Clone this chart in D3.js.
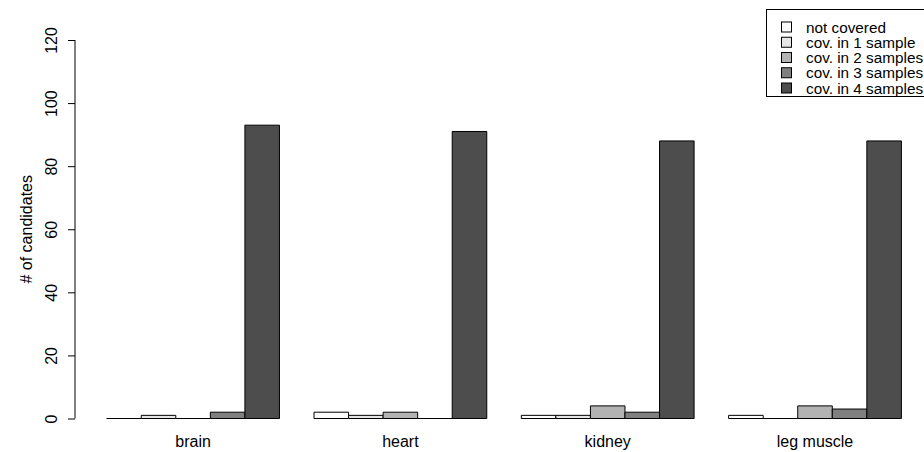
<!DOCTYPE html>
<html>
<head>
<meta charset="utf-8">
<script src="https://cdn.jsdelivr.net/npm/d3@7"></script>
<style>
  html, body { margin: 0; padding: 0; background: #fff; }
  svg { display: block; font-family: "Liberation Sans", Arial, Helvetica, sans-serif; }
</style>
</head>
<body>
<svg id="chart" width="924" height="452"></svg>
<script>
// Tissues along the x axis
const tissues = ["brain", "heart", "kidney", "leg muscle"];
// Coverage classes (one bar per class inside each tissue group)
const coverage = ["not covered", "cov. in 1 sample", "cov. in 2 samples", "cov. in 3 samples", "cov. in 4 samples"];
// Counts per tissue, in the order of the coverage classes
const brain = [0, 1, 0, 2, 93];
const heart = [2, 1, 2, 0, 91];
const kidney = [1, 1, 4, 2, 88];
const legMuscle = [1, 0, 4, 3, 88];
const yTicks = [0, 20, 40, 60, 80, 100, 120];
const fills = ["#ffffff", "#e6e6e6", "#b3b3b3", "#808080", "#4d4d4d"];

const counts = [brain, heart, kidney, legMuscle];
const svg = d3.select("#chart");

// Bars are laid out in bar-width units: each group has one empty unit before it
const nBars = coverage.length;
const groupSpan = nBars + 1;
const x = d3.scaleLinear().domain([1, tissues.length * groupSpan]).range([106.7, 901.4]);
const y = d3.scaleLinear().domain([0, 120]).range([418.5, 40]);
const axisX = 75;

const bars = [];
counts.forEach((vals, g) => {
  vals.forEach((v, j) => {
    bars.push({ g, j, v, left: g * groupSpan + 1 + j });
  });
});

svg.append("g")
  .selectAll("path")
  .data(bars)
  .join("path")
  .attr("d", d => {
    const x0 = x(d.left), x1 = x(d.left + 1);
    const y0 = y(0), y1 = y(d.v);
    return `M${x0},${y0}H${x1}V${y1}H${x0}Z`;
  })
  .attr("fill", d => fills[d.j])
  .attr("stroke", "#000")
  .attr("stroke-width", 1);

// Y axis (ticks point left, labels rotated)
const yAxis = d3.axisLeft(y).tickValues(yTicks).tickSize(7).tickPadding(0).tickFormat(d3.format("d"));
const ya = svg.append("g").attr("transform", `translate(${axisX},0)`).call(yAxis);
ya.select(".domain").attr("d", `M0,${y(0)}V${y(120)}`).attr("stroke", "#000");
ya.selectAll(".tick line").attr("stroke", "#000");
ya.selectAll(".tick text")
  .attr("x", null).attr("dy", null)
  .attr("transform", "translate(-18,0) rotate(-90)")
  .attr("text-anchor", "middle")
  .attr("fill", "#000")
  .style("font-size", "16px");

svg.append("text")
  .attr("transform", `translate(32,${(y(0) + y(120)) / 2}) rotate(-90)`)
  .attr("text-anchor", "middle")
  .style("font-size", "16px")
  .text("# of candidates");

// Group labels under the bars
svg.append("g")
  .selectAll("text")
  .data(tissues)
  .join("text")
  .attr("x", (d, g) => x(g * groupSpan + 1 + nBars / 2))
  .attr("y", 447)
  .attr("text-anchor", "middle")
  .style("font-size", "16px")
  .text(d => d);

// Legend
const lg = svg.append("g");
lg.append("rect")
  .attr("x", 766.5).attr("y", 9.5).attr("width", 170).attr("height", 87)
  .attr("fill", "#fff").attr("stroke", "#000");
const rowY = d3.scaleLinear().domain([0, coverage.length - 1]).range([27, 88]);
lg.selectAll("rect.key")
  .data(coverage)
  .join("rect")
  .attr("class", "key")
  .attr("x", 781.5).attr("y", (d, i) => rowY(i) - 5)
  .attr("width", 10).attr("height", 10)
  .attr("fill", (d, i) => fills[i])
  .attr("stroke", "#000");
lg.selectAll("text")
  .data(coverage)
  .join("text")
  .attr("x", 806).attr("y", (d, i) => rowY(i) + 5.5)
  .style("font-size", "15.3px")
  .text(d => d);
</script>
</body>
</html>
